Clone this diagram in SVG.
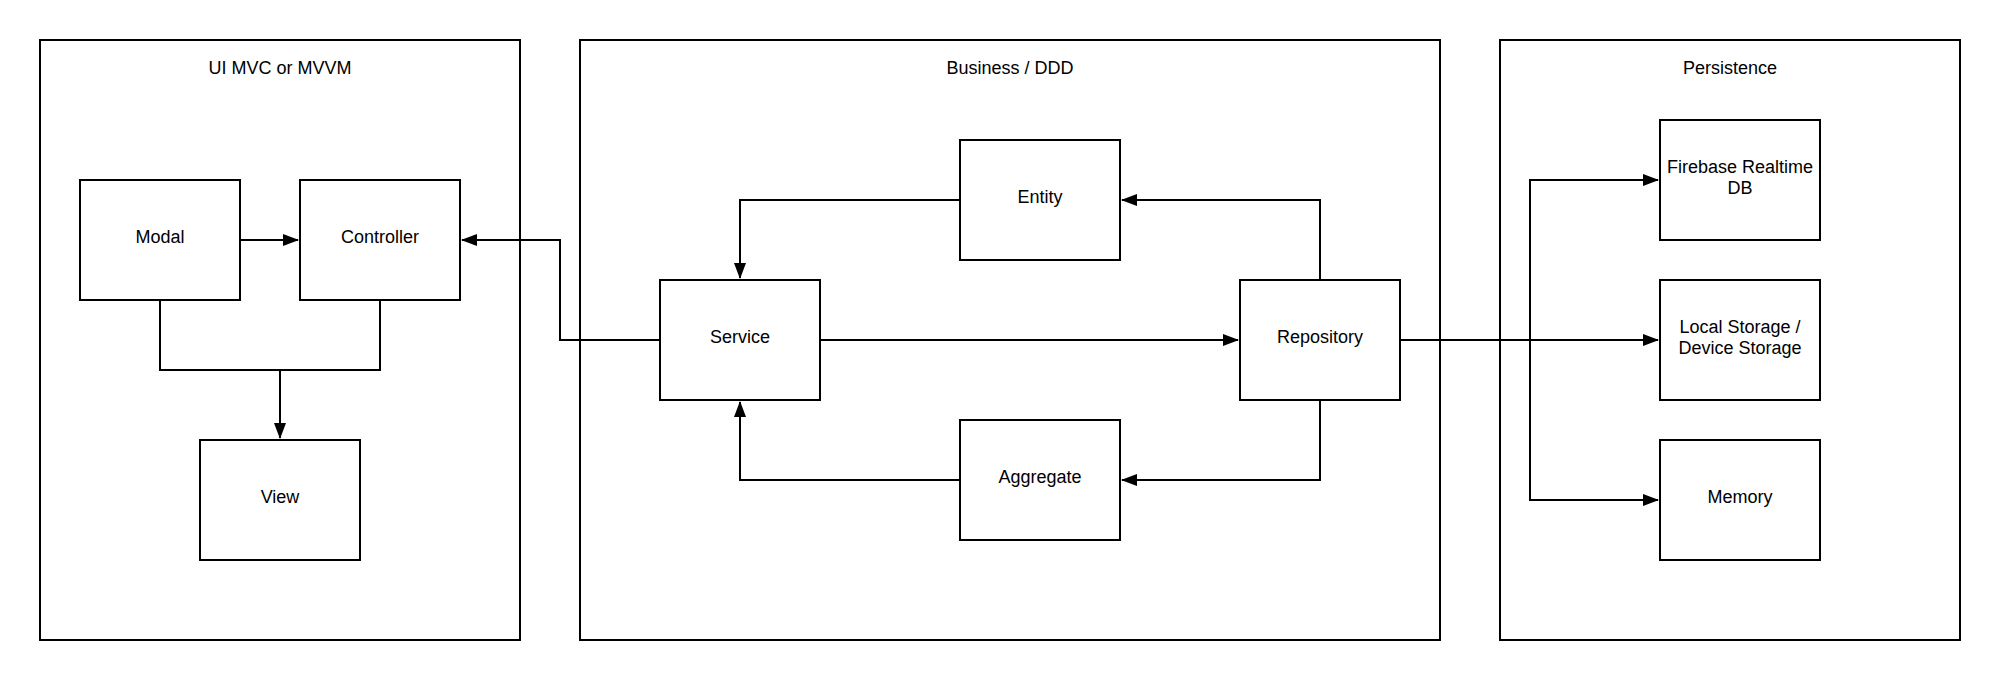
<svg xmlns="http://www.w3.org/2000/svg" width="2000" height="680" viewBox="0 0 2000 680">
<style>
rect{fill:#fff;stroke:#000;stroke-width:2}
text{font-family:"Liberation Sans",Arial,sans-serif;font-size:18px;fill:#000;text-anchor:middle}
.c{fill:none;stroke:#000;stroke-width:2}
</style>
<defs>
<marker id="a" markerWidth="16" markerHeight="12" refX="15" refY="6" orient="auto" markerUnits="userSpaceOnUse">
<path d="M0,0 L16,6 L0,12 Z" fill="#000"/>
</marker>
</defs>
<rect width="2000" height="680" style="stroke:none"/>
<g id="ui-container"><rect x="40" y="40" width="480" height="600"/><text x="280" y="74">UI MVC or MVVM</text></g>
<g id="business-container"><rect x="580" y="40" width="860" height="600"/><text x="1010" y="74">Business / DDD</text></g>
<g id="persistence-container"><rect x="1500" y="40" width="460" height="600"/><text x="1730" y="74">Persistence</text></g>
<g id="connectors">
<path class="c" d="M240,240 H298" marker-end="url(#a)"/>
<path class="c" d="M160,300 V370 H380 V300 M280,370 V438" marker-end="url(#a)"/>
<path class="c" d="M660,340 H560 V240 H462" marker-end="url(#a)"/>
<path class="c" d="M960,200 H740 V278" marker-end="url(#a)"/>
<path class="c" d="M960,480 H740 V402" marker-end="url(#a)"/>
<path class="c" d="M820,340 H1238" marker-end="url(#a)"/>
<path class="c" d="M1320,280 V200 H1122" marker-end="url(#a)"/>
<path class="c" d="M1320,400 V480 H1122" marker-end="url(#a)"/>
<path class="c" d="M1400,340 H1658" marker-end="url(#a)"/>
<path class="c" d="M1530,340 V180 H1658" marker-end="url(#a)"/>
<path class="c" d="M1530,340 V500 H1658" marker-end="url(#a)"/>
</g>
<g id="modal"><rect x="80" y="180" width="160" height="120"/><text x="160" y="243">Modal</text></g>
<g id="controller"><rect x="300" y="180" width="160" height="120"/><text x="380" y="243">Controller</text></g>
<g id="view"><rect x="200" y="440" width="160" height="120"/><text x="280" y="503">View</text></g>
<g id="entity"><rect x="960" y="140" width="160" height="120"/><text x="1040" y="203">Entity</text></g>
<g id="service"><rect x="660" y="280" width="160" height="120"/><text x="740" y="343">Service</text></g>
<g id="aggregate"><rect x="960" y="420" width="160" height="120"/><text x="1040" y="483">Aggregate</text></g>
<g id="repository"><rect x="1240" y="280" width="160" height="120"/><text x="1320" y="343">Repository</text></g>
<g id="firebase"><rect x="1660" y="120" width="160" height="120"/><text x="1740" y="173">Firebase Realtime</text><text x="1740" y="194">DB</text></g>
<g id="local-storage"><rect x="1660" y="280" width="160" height="120"/><text x="1740" y="333">Local Storage /</text><text x="1740" y="354">Device Storage</text></g>
<g id="memory"><rect x="1660" y="440" width="160" height="120"/><text x="1740" y="503">Memory</text></g>
</svg>
